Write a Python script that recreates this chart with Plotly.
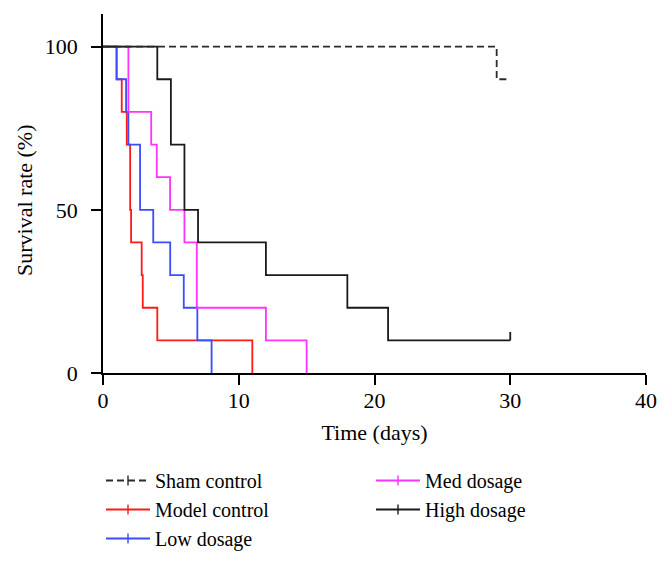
import plotly.graph_objects as go

# ---- data ----
sham_t = [0, 29, 30]
sham_s = [100, 90, 90]

model_t = [0, 1.0, 1.38, 1.75, 2.0, 2.07, 2.85, 2.93, 4.0, 11.0]
model_s = [100, 90, 80, 70, 50, 40, 30, 20, 10, 0]

low_t = [0, 1.0, 1.7, 1.87, 2.73, 3.7, 4.95, 5.95, 6.95, 8.0]
low_s = [100, 90, 80, 70, 50, 40, 30, 20, 10, 0]

med_t = [0, 1.87, 3.55, 3.96, 4.94, 6.0, 6.91, 12.0, 15.0]
med_s = [100, 80, 70, 60, 50, 40, 20, 10, 0]

high_t = [0, 4, 5, 6, 7, 12, 18, 21, 30]
high_s = [100, 90, 70, 50, 40, 30, 20, 10, 10]

censor_high_t = [30]
censor_high_s = [10]

names = ["Sham control", "Model control", "Low dosage", "Med dosage", "High dosage"]
colors = {"Sham control": "#2b2b2b", "Model control": "#ff1a1a", "Low dosage": "#3a4dff",
          "Med dosage": "#ff33ff", "High dosage": "#1a1a1a"}
dashes = {"Sham control": "7px,4px"}

x_ticks = [0, 10, 20, 30, 40]
y_ticks = [0, 50, 100]

x_title = "Time (days)"
y_title = "Survival rate (%)"

FONT = "Liberation Serif"
FS = 22
LFS = 20
LW = 1.8
TICK_UP = 2.6  # censor tick length in % units (style)

# the page body adds an 8px margin around the figure
W, H = 658, 554
ML, MR, MT, MB = 95, 20, 6, 189
PW, PH = W - ML - MR, H - MT - MB

fig = go.Figure()

series = [("Model control", model_t, model_s),
          ("Low dosage", low_t, low_s),
          ("Med dosage", med_t, med_s),
          ("High dosage", high_t, high_s),
          ("Sham control", sham_t, sham_s)]

for name, t, s in series:
    fig.add_trace(go.Scatter(
        x=t, y=s, mode="lines", line=dict(shape="hv", color=colors[name], width=LW,
                                            dash=dashes.get(name, "solid")),
        showlegend=False, hoverinfo="skip"))

# censor tick (upward)
fig.add_trace(go.Scatter(
    x=censor_high_t, y=censor_high_s, mode="markers", marker=dict(size=0.1, color=colors["High dosage"]),
    error_y=dict(type="data", symmetric=False, array=[TICK_UP] * len(censor_high_t),
                 arrayminus=[0] * len(censor_high_t), width=0, thickness=LW,
                 color=colors["High dosage"]),
    showlegend=False, hoverinfo="skip"))

# legend entries
for i, name in enumerate(names):
    fig.add_trace(go.Scatter(
        x=[None], y=[None], mode="lines+markers", name=name,
        line=dict(color=colors[name], width=LW, dash=dashes.get(name, "solid")),
        marker=dict(symbol="line-ns", size=7, line=dict(width=1.4, color=colors[name])),
        legend="legend" if i < 3 else "legend2"))

axis_common = dict(showline=True, linecolor="black", linewidth=1.6, ticks="outside",
                   tickcolor="black", tickwidth=1.6, ticklen=10, showgrid=False, zeroline=False,
                   tickfont=dict(family=FONT, size=FS, color="black"))

leg_common = dict(xref="container", yref="container", xanchor="left", yanchor="top",
                  orientation="v", font=dict(family=FONT, size=LFS), bgcolor="rgba(0,0,0,0)",
                  tracegroupgap=0, itemwidth=44)

fig.update_layout(
    width=W, height=H,
    margin=dict(l=ML, r=MR, t=MT, b=MB, autoexpand=False),
    paper_bgcolor="white", plot_bgcolor="white",
    font=dict(family=FONT, size=FS, color="black"),
    xaxis=dict(range=[0, 40], tickvals=x_ticks, ticktext=[str(v) for v in x_ticks],
               ticklabelstandoff=-3,
               title=dict(text=x_title, font=dict(family=FONT, size=FS), standoff=12),
               **axis_common),
    yaxis=dict(range=[0, 110], tickvals=y_ticks, ticktext=[str(v) for v in y_ticks],
               ticklabelstandoff=9,
               **axis_common),
    legend=dict(x=93 / W, y=1 - 453 / H, **leg_common),
    legend2=dict(x=363 / W, y=1 - 453 / H, **leg_common),
    annotations=[dict(text=y_title, textangle=-90, xref="paper", yref="paper",
                      x=(17 - ML) / PW, y=(MT + PH - 192) / PH, xanchor="center", yanchor="middle",
                      showarrow=False, font=dict(family=FONT, size=FS, color="black"))],
)

fig.write_html("out.html")
